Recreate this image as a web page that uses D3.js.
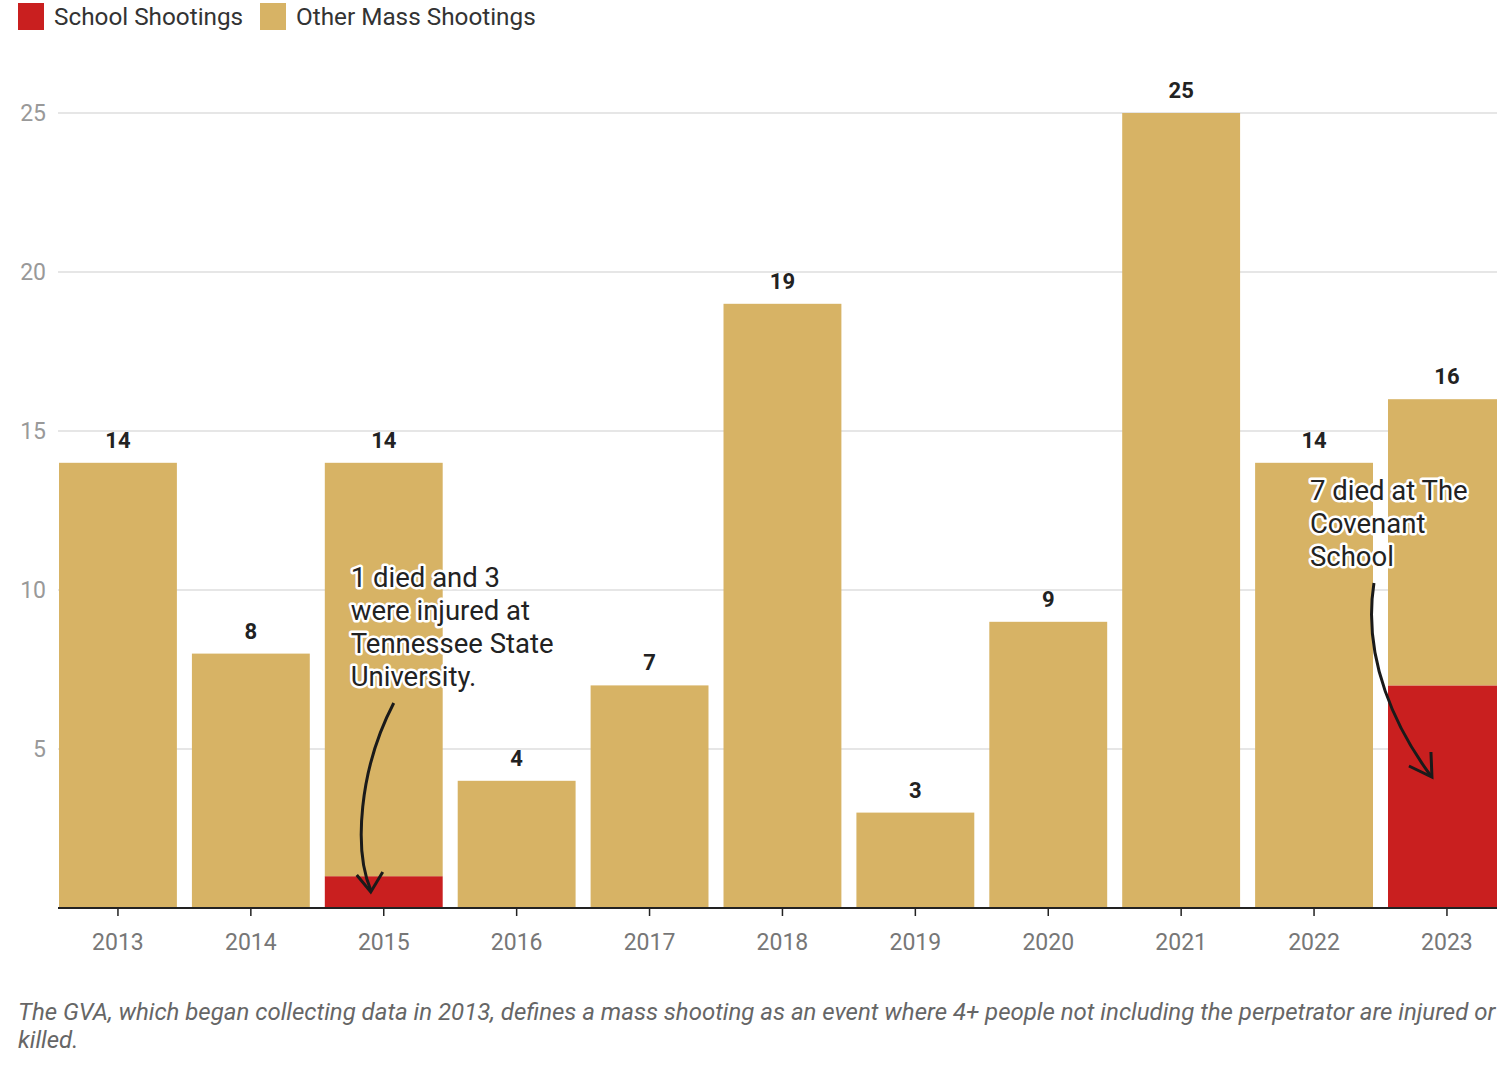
<!DOCTYPE html>
<html><head><meta charset="utf-8">
<script src="https://cdn.jsdelivr.net/npm/d3@7"></script>
<style>
html,body{margin:0;padding:0;background:#fff;overflow:hidden;}
svg{display:block;font-family:Roboto,"Noto Sans",sans-serif;}
</style></head>
<body>
<script>
const years = ["2013","2014","2015","2016","2017","2018","2019","2020","2021","2022","2023"];
const schoolShootings = [0,0,1,0,0,0,0,0,0,0,7];
const otherShootings = [14,8,13,4,7,19,3,9,25,14,9];
const yTicks = [5,10,15,20,25];
const seriesNames = ["School Shootings","Other Mass Shootings"];
const seriesColors = ["#c91f1f","#d7b365"];
const annotations = [
  {year:"2015", lines:["1 died and 3","were injured at","Tennessee State","University."]},
  {year:"2023", lines:["7 died at The","Covenant","School"]}
];
const footnote = ["The GVA, which began collecting data in 2013, defines a mass shooting as an event where 4+ people not including the perpetrator are injured or","killed."];

const W=1497,H=1068;
const svg=d3.select("body").append("svg").attr("width",W).attr("height",H);

const step=132.9;
const x=d3.scaleBand().domain(years).range([51.5,51.5+step*11]).paddingInner(0.113).paddingOuter(0.0565);
const y=d3.scaleLinear().domain([0,25]).range([908,113]);

// grid
svg.append("g").selectAll("line").data(yTicks).join("line")
  .attr("x1",58).attr("x2",W).attr("y1",d=>y(d)).attr("y2",d=>y(d))
  .attr("stroke","#e6e6e6").attr("stroke-width",2);
svg.append("g").selectAll("text").data(yTicks).join("text")
  .attr("x",46).attr("y",d=>y(d)).attr("dy","0.35em").attr("text-anchor","end")
  .attr("fill","#999").attr("font-size",23).text(d=>d);

// stacks
const rows=years.map((yr,i)=>({year:yr,school:schoolShootings[i],other:otherShootings[i]}));
const stack=d3.stack().keys(["school","other"])(rows);
svg.append("g").selectAll("g").data(stack).join("g").attr("fill",(d,i)=>seriesColors[i])
  .selectAll("rect").data(d=>d).join("rect")
  .attr("x",d=>x(d.data.year)).attr("width",x.bandwidth())
  .attr("y",d=>y(d[1])).attr("height",d=>y(d[0])-y(d[1]));

// totals
svg.append("g").selectAll("text").data(rows).join("text")
  .attr("x",d=>x(d.year)+x.bandwidth()/2).attr("y",d=>y(d.school+d.other)-15)
  .attr("text-anchor","middle").attr("font-size",22).attr("font-weight","bold").attr("fill","#222")
  .text(d=>d.school+d.other);

// x axis
const xAxis=d3.axisBottom(x).tickSize(8).tickSizeOuter(0).tickPadding(18);
const gx=svg.append("g").attr("transform","translate(0,908)").call(xAxis);
gx.select(".domain").remove();
gx.selectAll(".tick line").attr("stroke","#222").attr("stroke-width",1.5);
gx.selectAll(".tick text").attr("font-size",23).attr("fill","#777").attr("font-family","Roboto,sans-serif");
svg.append("line").attr("x1",58).attr("x2",W).attr("y1",908).attr("y2",908).attr("stroke","#222").attr("stroke-width",2);

// legend
const lg=svg.append("g");
const legX=[18,260];
seriesNames.forEach((n,i)=>{
  lg.append("rect").attr("x",legX[i]).attr("y",3).attr("width",26).attr("height",27).attr("fill",seriesColors[i]);
  lg.append("text").attr("x",legX[i]+36).attr("y",25).attr("font-size",24.3).attr("fill","#333").text(n);
});

// annotations
const annPos=[{dx:-33,y:587},{dx:-137,y:500}];
annotations.forEach((a,k)=>{
  const cx=x(a.year)+x.bandwidth()/2;
  const t=svg.append("text").attr("font-size",27.5).attr("fill","#222")
    .attr("stroke","#fff").attr("stroke-width",5).attr("stroke-linejoin","round").attr("paint-order","stroke");
  a.lines.forEach((l,j)=>t.append("tspan").attr("x",cx+annPos[k].dx).attr("y",annPos[k].y+j*33).text(l));
});
// arrows
const arrows=[
  {year:"2015", d:(c)=>`M${c+10},703 C${c-25},770 ${c-30},850 ${c-13},890`, head:(c)=>[[c-27,875],[c-13,892],[c-1,872]]},
  {year:"2023", d:(c)=>`M${c-73},583 C${c-85},660 ${c-50},730 ${c-16},776`, head:(c)=>[[c-38,766],[c-15,777],[c-16,752]]}
];
arrows.forEach(a=>{
  const c=x(a.year)+x.bandwidth()/2;
  svg.append("path").attr("d",a.d(c)).attr("fill","none").attr("stroke","#1a1a1a").attr("stroke-width",3);
  svg.append("path").attr("d",d3.line()(a.head(c))).attr("fill","none").attr("stroke","#1a1a1a").attr("stroke-width",3);
});

// footnote
const ft=svg.append("text").attr("font-size",24).attr("font-style","italic").attr("fill","#666");
footnote.forEach((l,j)=>ft.append("tspan").attr("x",18).attr("y",1020+j*28).text(l));
</script>
</body></html>
